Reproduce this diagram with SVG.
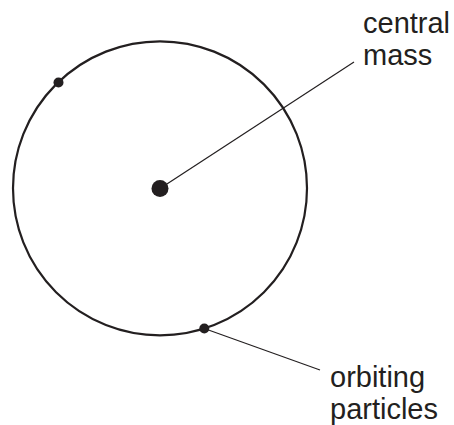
<svg xmlns="http://www.w3.org/2000/svg" width="454" height="425" viewBox="0 0 454 425">
<style>
.lbl{font-family:"Liberation Sans",Arial,Helvetica,sans-serif;font-size:29px;fill:#231f20}
.leader{stroke:#231f20;stroke-width:1.2;fill:none}
.dot{fill:#231f20}
</style>
<rect width="454" height="425" fill="#fff"/>
<g id="orbit">
<circle cx="160" cy="188.3" r="147" fill="none" stroke="#231f20" stroke-width="2.2"/>
</g>
<g id="connectors">
<line class="leader" x1="160" y1="188.5" x2="354" y2="62"/>
<line class="leader" x1="204.3" y1="328.5" x2="320" y2="370"/>
</g>
<g id="central-mass">
<circle class="dot" cx="160" cy="188.5" r="8.5"/>
<text class="lbl" x="363" y="33">central</text>
<text class="lbl" x="363" y="65">mass</text>
</g>
<g id="particle-1">
<circle class="dot" cx="58.5" cy="82.5" r="5"/>
</g>
<g id="particle-2">
<circle class="dot" cx="204.3" cy="328.5" r="5"/>
</g>
<g id="orbiting-label">
<text class="lbl" x="330" y="387">orbiting</text>
<text class="lbl" x="330" y="419">particles</text>
</g>
</svg>
